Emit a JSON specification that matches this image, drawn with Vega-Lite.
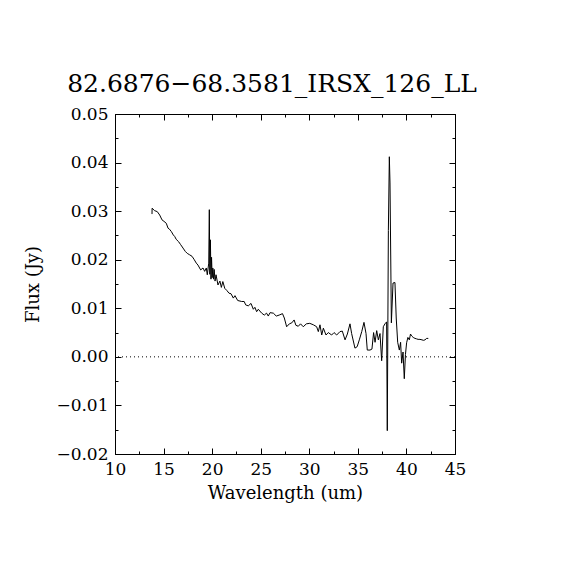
{
  "$schema": "https://vega.github.io/schema/vega-lite/v6.json",
  "width": 340,
  "height": 340,
  "autosize": "none",
  "padding": {"left": 115, "top": 114, "right": 115, "bottom": 116},
  "background": "white",
  "title": {
    "text": "82.6876−68.3581_IRSX_126_LL",
    "font": "DejaVu Serif",
    "fontSize": 25,
    "fontWeight": "normal",
    "color": "black",
    "offset": 8,
    "dx": -13
  },
  "config": {
    "view": {"stroke": "black", "strokeWidth": 1},
    "axis": {
      "domainColor": "black",
      "tickColor": "black",
      "labelColor": "black",
      "titleColor": "black",
      "labelFont": "DejaVu Serif",
      "titleFont": "DejaVu Serif",
      "labelFontSize": 17,
      "titleFontSize": 18,
      "titleFontWeight": "normal",
      "labelFlush": false,
      "labelOverlap": false,
      "grid": false
    }
  },
  "data": {
    "values": [
      {"wavelength": 13.81, "flux": 0.0294},
      {"wavelength": 13.82, "flux": 0.0306},
      {"wavelength": 14.08, "flux": 0.0301},
      {"wavelength": 14.35, "flux": 0.0299},
      {"wavelength": 14.6, "flux": 0.0292},
      {"wavelength": 14.84, "flux": 0.0282},
      {"wavelength": 15.04, "flux": 0.0279},
      {"wavelength": 15.28, "flux": 0.0275},
      {"wavelength": 15.46, "flux": 0.0265},
      {"wavelength": 15.6, "flux": 0.0263},
      {"wavelength": 15.8, "flux": 0.0258},
      {"wavelength": 16.0, "flux": 0.0251},
      {"wavelength": 16.14, "flux": 0.0248},
      {"wavelength": 16.3, "flux": 0.0242},
      {"wavelength": 16.55, "flux": 0.0237},
      {"wavelength": 16.76, "flux": 0.0231},
      {"wavelength": 17.0, "flux": 0.0224},
      {"wavelength": 17.24, "flux": 0.0217},
      {"wavelength": 17.44, "flux": 0.0213},
      {"wavelength": 17.69, "flux": 0.021},
      {"wavelength": 17.93, "flux": 0.0207},
      {"wavelength": 18.13, "flux": 0.0201},
      {"wavelength": 18.37, "flux": 0.0193},
      {"wavelength": 18.54, "flux": 0.0189},
      {"wavelength": 18.82, "flux": 0.0179},
      {"wavelength": 19.06, "flux": 0.0183},
      {"wavelength": 19.23, "flux": 0.0176},
      {"wavelength": 19.4, "flux": 0.0183},
      {"wavelength": 19.5, "flux": 0.0169},
      {"wavelength": 19.65, "flux": 0.0193},
      {"wavelength": 19.71, "flux": 0.0303},
      {"wavelength": 19.76, "flux": 0.017},
      {"wavelength": 19.82, "flux": 0.0241},
      {"wavelength": 19.88, "flux": 0.016},
      {"wavelength": 19.94, "flux": 0.0205},
      {"wavelength": 20.0, "flux": 0.0163},
      {"wavelength": 20.07, "flux": 0.0183},
      {"wavelength": 20.14, "flux": 0.016},
      {"wavelength": 20.21, "flux": 0.018},
      {"wavelength": 20.3, "flux": 0.0156},
      {"wavelength": 20.4, "flux": 0.0169},
      {"wavelength": 20.6, "flux": 0.0148},
      {"wavelength": 20.8, "flux": 0.0156},
      {"wavelength": 20.95, "flux": 0.0143},
      {"wavelength": 21.1, "flux": 0.0155},
      {"wavelength": 21.3, "flux": 0.0141},
      {"wavelength": 21.5, "flux": 0.0137},
      {"wavelength": 21.74, "flux": 0.0131},
      {"wavelength": 21.94, "flux": 0.013},
      {"wavelength": 22.18, "flux": 0.0121},
      {"wavelength": 22.35, "flux": 0.0126},
      {"wavelength": 22.63, "flux": 0.0116},
      {"wavelength": 23.04, "flux": 0.0114},
      {"wavelength": 23.3, "flux": 0.0114},
      {"wavelength": 23.45, "flux": 0.0107},
      {"wavelength": 23.72, "flux": 0.0105},
      {"wavelength": 24.0, "flux": 0.011},
      {"wavelength": 24.24, "flux": 0.0098},
      {"wavelength": 24.4, "flux": 0.0102},
      {"wavelength": 24.58, "flux": 0.0093},
      {"wavelength": 24.75, "flux": 0.0098},
      {"wavelength": 25.1, "flux": 0.009},
      {"wavelength": 25.37, "flux": 0.0086},
      {"wavelength": 25.6, "flux": 0.009},
      {"wavelength": 25.78, "flux": 0.0084},
      {"wavelength": 25.96, "flux": 0.0091},
      {"wavelength": 26.3, "flux": 0.009},
      {"wavelength": 26.6, "flux": 0.0084},
      {"wavelength": 26.9, "flux": 0.0086},
      {"wavelength": 27.24, "flux": 0.0089},
      {"wavelength": 27.43, "flux": 0.008},
      {"wavelength": 27.67, "flux": 0.0062},
      {"wavelength": 27.95, "flux": 0.0068},
      {"wavelength": 28.2, "flux": 0.007},
      {"wavelength": 28.44, "flux": 0.0076},
      {"wavelength": 28.62, "flux": 0.0065},
      {"wavelength": 28.87, "flux": 0.0063},
      {"wavelength": 29.1, "flux": 0.0068},
      {"wavelength": 29.38, "flux": 0.0062},
      {"wavelength": 29.7, "flux": 0.0068},
      {"wavelength": 30.05, "flux": 0.0069},
      {"wavelength": 30.42, "flux": 0.0066},
      {"wavelength": 30.76, "flux": 0.0062},
      {"wavelength": 30.93, "flux": 0.0052},
      {"wavelength": 31.1, "flux": 0.0066},
      {"wavelength": 31.28, "flux": 0.0045},
      {"wavelength": 31.45, "flux": 0.0059},
      {"wavelength": 31.72, "flux": 0.0045},
      {"wavelength": 31.96, "flux": 0.005},
      {"wavelength": 32.3, "flux": 0.0045},
      {"wavelength": 32.55, "flux": 0.005},
      {"wavelength": 32.82, "flux": 0.0045},
      {"wavelength": 33.16, "flux": 0.0052},
      {"wavelength": 33.4, "flux": 0.0053},
      {"wavelength": 33.68, "flux": 0.0035},
      {"wavelength": 33.92, "flux": 0.0047},
      {"wavelength": 34.19, "flux": 0.0068},
      {"wavelength": 34.36, "flux": 0.0048},
      {"wavelength": 34.7, "flux": 0.0018},
      {"wavelength": 34.93, "flux": 0.0021},
      {"wavelength": 35.15, "flux": 0.0035},
      {"wavelength": 35.4, "flux": 0.0052},
      {"wavelength": 35.63, "flux": 0.0071},
      {"wavelength": 35.84, "flux": 0.0048},
      {"wavelength": 35.97, "flux": 0.0014},
      {"wavelength": 36.25, "flux": 0.0014},
      {"wavelength": 36.45, "flux": 0.0016},
      {"wavelength": 36.62, "flux": 0.005},
      {"wavelength": 36.77, "flux": 0.003},
      {"wavelength": 36.94, "flux": 0.0054},
      {"wavelength": 37.11, "flux": 0.0035},
      {"wavelength": 37.28, "flux": 0.0048},
      {"wavelength": 37.45, "flux": -0.0008},
      {"wavelength": 37.62, "flux": 0.0062},
      {"wavelength": 37.79, "flux": 0.0068},
      {"wavelength": 37.96, "flux": 0.0072},
      {"wavelength": 38.03, "flux": -0.0152},
      {"wavelength": 38.14, "flux": 0.026},
      {"wavelength": 38.24, "flux": 0.0412},
      {"wavelength": 38.31, "flux": 0.0358},
      {"wavelength": 38.45, "flux": 0.007},
      {"wavelength": 38.62, "flux": 0.0152},
      {"wavelength": 38.82, "flux": 0.0153},
      {"wavelength": 38.95, "flux": 0.008},
      {"wavelength": 39.1, "flux": 0.003},
      {"wavelength": 39.27, "flux": 0.0014},
      {"wavelength": 39.4, "flux": 0.003},
      {"wavelength": 39.51, "flux": -0.0013},
      {"wavelength": 39.65, "flux": 0.001},
      {"wavelength": 39.78, "flux": -0.0045},
      {"wavelength": 39.9, "flux": 0.0005},
      {"wavelength": 40.02, "flux": 0.0029},
      {"wavelength": 40.15, "flux": 0.004},
      {"wavelength": 40.3, "flux": 0.0035},
      {"wavelength": 40.42, "flux": 0.0047},
      {"wavelength": 40.54, "flux": 0.0043},
      {"wavelength": 40.7, "flux": 0.004},
      {"wavelength": 40.88, "flux": 0.0038},
      {"wavelength": 41.05, "flux": 0.0037},
      {"wavelength": 41.2, "flux": 0.0036},
      {"wavelength": 41.39, "flux": 0.0036},
      {"wavelength": 41.6, "flux": 0.0035},
      {"wavelength": 41.75, "flux": 0.0034},
      {"wavelength": 41.91, "flux": 0.0035},
      {"wavelength": 42.08, "flux": 0.0038},
      {"wavelength": 42.25, "flux": 0.0038}
    ]
  },
  "layer": [
    {
      "data": {"values": [{}]},
      "mark": {"type": "rule", "color": "black", "strokeWidth": 1, "strokeDash": [1, 3]},
      "encoding": {
        "y": {"datum": 0, "type": "quantitative", "scale": {"domain": [-0.02, 0.05], "nice": false, "zero": false}, "axis": null}
      }
    },
    {
      "mark": {"type": "line", "color": "black", "strokeWidth": 1},
      "encoding": {
        "x": {
          "field": "wavelength",
          "type": "quantitative",
          "scale": {"domain": [10, 45], "nice": false, "zero": false},
          "axis": {
            "orient": "bottom",
            "title": "Wavelength (um)",
            "values": [10, 12.5, 15, 17.5, 20, 22.5, 25, 27.5, 30, 32.5, 35, 37.5, 40, 42.5, 45],
            "labelExpr": "datum.value % 5 === 0 ? datum.label : ''",
            "tickSize": {"condition": {"test": "datum.value % 5 === 0", "value": -6}, "value": -3},
            "labelPadding": 13,
            "titlePadding": 4
          }
        },
        "y": {
          "field": "flux",
          "type": "quantitative",
          "scale": {"domain": [-0.02, 0.05], "nice": false, "zero": false},
          "axis": {
            "orient": "left",
            "title": "Flux (Jy)",
            "format": ".2f",
            "values": [-0.02, -0.015, -0.01, -0.005, 0, 0.005, 0.01, 0.015, 0.02, 0.025, 0.03, 0.035, 0.04, 0.045, 0.05],
            "labelExpr": "abs(round(datum.value * 1000)) % 10 === 0 ? datum.label : ''",
            "tickSize": {"condition": {"test": "abs(round(datum.value * 1000)) % 10 === 0", "value": -6}, "value": -3},
            "labelPadding": 13,
            "titlePadding": 13
          }
        }
      }
    },
    {
      "mark": {"type": "line", "opacity": 0},
      "encoding": {
        "x": {
          "field": "wavelength",
          "type": "quantitative",
          "axis": {
            "orient": "top",
            "title": null,
            "labels": false,
            "values": [10, 12.5, 15, 17.5, 20, 22.5, 25, 27.5, 30, 32.5, 35, 37.5, 40, 42.5, 45],
            "tickSize": {"condition": {"test": "datum.value % 5 === 0", "value": -6}, "value": -3}
          }
        },
        "y": {
          "field": "flux",
          "type": "quantitative",
          "axis": {
            "orient": "right",
            "title": null,
            "labels": false,
            "values": [-0.02, -0.015, -0.01, -0.005, 0, 0.005, 0.01, 0.015, 0.02, 0.025, 0.03, 0.035, 0.04, 0.045, 0.05],
            "tickSize": {"condition": {"test": "abs(round(datum.value * 1000)) % 10 === 0", "value": -6}, "value": -3}
          }
        }
      }
    }
  ],
  "resolve": {"axis": {"x": "independent", "y": "independent"}}
}
